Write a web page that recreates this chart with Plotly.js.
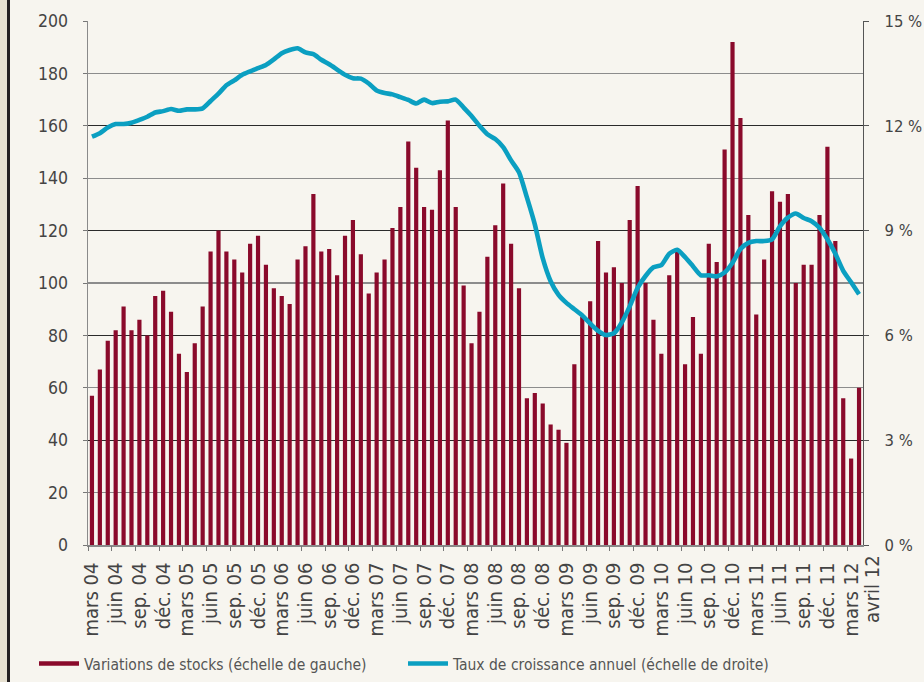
<!DOCTYPE html>
<html>
<head>
<meta charset="utf-8">
<script src="https://cdn.plot.ly/plotly-3.0.1.min.js"></script>
<style>
  html, body { margin: 0; padding: 0; background: #f7f5ef; }
  #chart { width: 924px; height: 682px; }
</style>
</head>
<body>
<div id="chart"></div>
<script>
// Variations de stocks (monthly, mars 2004 -> avril 2012), left scale
const stocks = [
  57, 67, 78, 82, 91, 82, 86, 80, 95, 97,
  89, 73, 66, 77, 91, 112, 120, 112, 109, 104, 115, 118,
  107, 98, 95, 92, 109, 114, 134, 112, 113, 103, 118, 124,
  111, 96, 104, 109, 121, 129, 154, 144, 129, 128, 143, 162,
  129, 99, 77, 89, 110, 122, 138, 115, 98, 56, 58, 54,
  46, 44, 39, 69, 87, 93, 116, 104, 106, 100, 124, 137,
  100, 86, 73, 103, 112, 69, 87, 73, 115, 108, 151, 192,
  163, 126, 88, 109, 135, 131, 134, 100, 107, 107, 126, 152,
  116, 56, 33, 60
];
// Taux de croissance annuel (%), right scale
const growth = [
  11.69, 11.79, 11.95, 12.05, 12.05, 12.09, 12.17, 12.26, 12.38, 12.42,
  12.48, 12.43, 12.47, 12.47, 12.50, 12.71, 12.92, 13.16, 13.30, 13.46, 13.56, 13.65,
  13.74, 13.90, 14.08, 14.17, 14.22, 14.10, 14.05, 13.89, 13.76, 13.61, 13.46, 13.36,
  13.35, 13.21, 13.01, 12.94, 12.90, 12.82, 12.74, 12.64, 12.75, 12.65, 12.69, 12.70,
  12.75, 12.52, 12.28, 12.00, 11.76, 11.62, 11.39, 11.01, 10.67, 9.95, 9.18, 8.21,
  7.55, 7.16, 6.93, 6.75, 6.57, 6.34, 6.13, 6.01, 6.06, 6.37, 6.83, 7.36,
  7.70, 7.95, 8.01, 8.34, 8.45, 8.24, 7.98, 7.72, 7.72, 7.69, 7.80, 8.08,
  8.47, 8.65, 8.70, 8.70, 8.75, 9.12, 9.37, 9.49, 9.36, 9.27, 9.08, 8.75,
  8.34, 7.85, 7.52, 7.18
];
// Tick labels every 3 months, plus the final month
const tickLabels = [
  'mars 04','juin 04','sep. 04','déc. 04',
  'mars 05','juin 05','sep. 05','déc. 05',
  'mars 06','juin 06','sep. 06','déc. 06',
  'mars 07','juin 07','sep. 07','déc. 07',
  'mars 08','juin 08','sep. 08','déc. 08',
  'mars 09','juin 09','sep. 09','déc. 09',
  'mars 10','juin 10','sep. 10','déc. 10',
  'mars 11','juin 11','sep. 11','déc. 11',
  'mars 12','avril 12'
];
const seriesNames = ['Variations de stocks (échelle de gauche)', 'Taux de croissance annuel (échelle de droite)'];

const barColor = '#8a0a2b';
const lineColor = '#0b9fc1';
const FONT = '"Liberation Sans Narrow", "DejaVu Sans Condensed", Roboto, sans-serif';

const idx = stocks.map((_, i) => i);
const mainLabels = tickLabels.slice(0, tickLabels.length - 1);
const mainTickVals = mainLabels.map((_, k) => 3 * k);
const boundaryTicks = mainLabels.map((_, k) => 3 * k - 0.5);

const traces = [
  { type: 'bar', x: idx, y: stocks, marker: { color: barColor }, showlegend: false, hoverinfo: 'y', xaxis: 'x', yaxis: 'y' },
  { type: 'scatter', mode: 'lines', x: idx, y: growth, yaxis: 'y2', xaxis: 'x',
    line: { color: lineColor, width: 4.6, shape: 'spline', smoothing: 0.6 }, showlegend: false },
  // legend entries (line samples as in the original)
  { type: 'scatter', mode: 'lines', x: [null], y: [null], name: seriesNames[0], line: { color: barColor, width: 4.5 }, hoverinfo: 'skip' },
  { type: 'scatter', mode: 'lines', x: [null], y: [null], name: seriesNames[1], yaxis: 'y2', line: { color: lineColor, width: 4.5 }, hoverinfo: 'skip' },
  // carrier for the tick-mark overlay axis
  { type: 'scatter', mode: 'lines', x: [null], y: [null], xaxis: 'x2', yaxis: 'y', showlegend: false, hoverinfo: 'skip' }
];

const px = (p) => (p - 88) / 775;   // pixel -> paper x
const py = (p) => (545 - p) / 524;  // pixel -> paper y

const layout = {
  width: 924, height: 682,
  paper_bgcolor: '#f7f5ef', plot_bgcolor: '#f7f5ef',
  margin: { l: 88, r: 61, t: 21, b: 137, pad: 0, autoexpand: false },
  font: { family: FONT, color: '#444', size: 16 },
  bargap: 0.47,
  xaxis: {
    range: [-0.5, 97.5], fixedrange: true, automargin: false,
    tickmode: 'array', tickvals: mainTickVals, ticktext: mainLabels,
    tickangle: -90, ticks: '', tickfont: { size: 20, color: '#444', family: FONT },
    ticklabelstandoff: 8,
    showgrid: false, zeroline: false,
    showline: true, linecolor: '#8a8a8a', linewidth: 1.5
  },
  xaxis2: {
    overlaying: 'x', anchor: 'y', range: [-0.5, 97.5], fixedrange: true,
    tickmode: 'array', tickvals: boundaryTicks, ticks: 'outside', ticklen: 5, tickcolor: '#777', tickwidth: 1,
    showticklabels: false, showgrid: false, zeroline: false, showline: false
  },
  yaxis: {
    range: [0, 200], dtick: 20, fixedrange: true, automargin: false,
    ticks: 'outside', ticklen: 4, tickcolor: '#777',
    tickfont: { size: 17.5, color: '#444', family: FONT },
    ticklabelstandoff: 11,
    gridcolor: '#8c8c8c', gridwidth: 1.3,
    showline: true, linecolor: '#8a8a8a', linewidth: 1.5, zeroline: false
  },
  yaxis2: {
    overlaying: 'y', side: 'right', range: [0, 15], dtick: 3, fixedrange: true, automargin: false,
    ticksuffix: ' %', ticks: 'outside', ticklen: 5, tickcolor: '#555',
    tickfont: { size: 16.5, color: '#444', family: FONT },
    ticklabelstandoff: 12,
    gridcolor: '#2a2a2a', gridwidth: 1,
    showline: true, linecolor: '#555', linewidth: 1.2, zeroline: false
  },
  legend: {
    orientation: 'h', x: px(34), xanchor: 'left', y: py(664), yanchor: 'middle',
    font: { size: 15.5, color: '#555', family: FONT },
    bgcolor: 'rgba(0,0,0,0)', entrywidth: 314, entrywidthmode: 'pixels', itemwidth: 40
  },
  annotations: [
    { text: tickLabels[tickLabels.length - 1], x: 1, xref: 'paper', xshift: 9, y: 0, yref: 'paper',
      yshift: -8, textangle: -90, showarrow: false, xanchor: 'center', yanchor: 'top',
      font: { size: 20, color: '#444', family: FONT } }
  ],
  shapes: [
    { type: 'rect', xref: 'paper', yref: 'paper', x0: px(0), x1: px(7), y0: py(682), y1: py(0),
      fillcolor: '#e6e0d0', line: { width: 0 }, layer: 'below' },
    { type: 'rect', xref: 'paper', yref: 'paper', x0: px(7), x1: px(10), y0: py(682), y1: py(0),
      fillcolor: '#231f20', line: { width: 0 }, layer: 'below' }
  ]
};

Plotly.newPlot('chart', traces, layout, { displayModeBar: false, staticPlot: true });
</script>
</body>
</html>
